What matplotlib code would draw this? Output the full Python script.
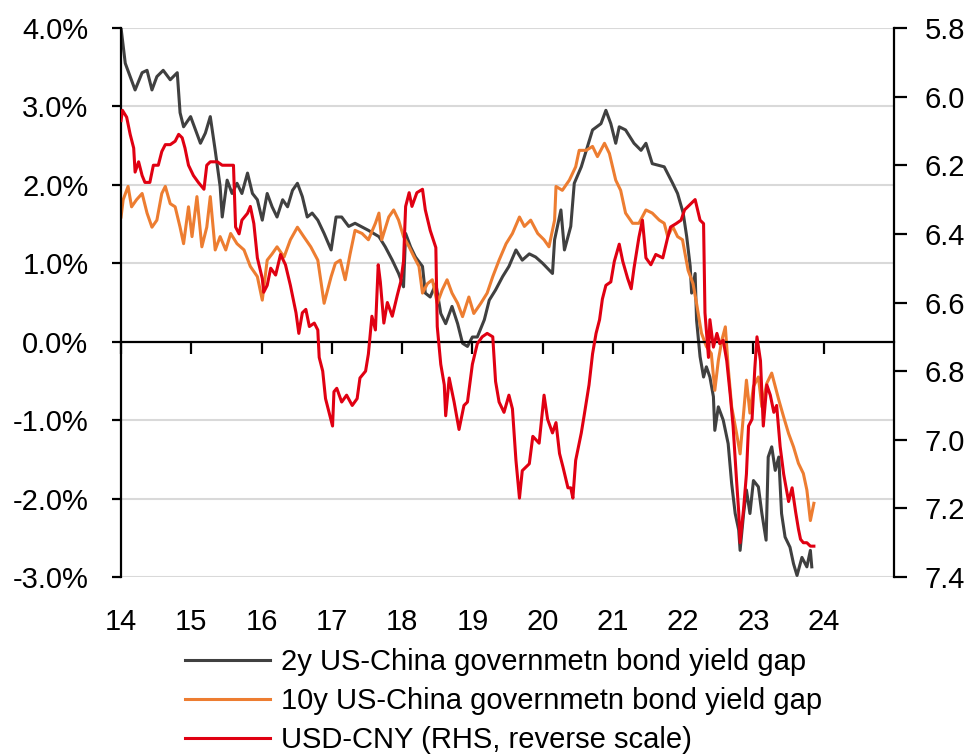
import matplotlib.pyplot as plt
from matplotlib.ticker import FuncFormatter

# 2y US-China government bond yield gap (%)
gap2y_years = [2014.00, 2014.06, 2014.13, 2014.20, 2014.30, 2014.37, 2014.44, 2014.51, 2014.60, 2014.70,
               2014.80, 2014.84, 2014.89, 2014.99, 2015.06, 2015.13, 2015.20, 2015.27, 2015.34, 2015.41,
               2015.44, 2015.51, 2015.58, 2015.65, 2015.72, 2015.80, 2015.87, 2015.94, 2016.01, 2016.08,
               2016.15, 2016.22, 2016.30, 2016.37, 2016.44, 2016.51, 2016.58, 2016.65, 2016.72, 2016.80,
               2016.89, 2016.99, 2017.06, 2017.14, 2017.24, 2017.33, 2017.52, 2017.67, 2017.76, 2017.86,
               2017.95, 2018.02, 2018.05, 2018.12, 2018.19, 2018.29, 2018.33, 2018.40, 2018.48, 2018.55,
               2018.62, 2018.71, 2018.79, 2018.86, 2018.93, 2019.00, 2019.07, 2019.17, 2019.24, 2019.33,
               2019.43, 2019.52, 2019.62, 2019.71, 2019.81, 2019.90, 2020.00, 2020.14, 2020.17, 2020.26,
               2020.31, 2020.40, 2020.45, 2020.55, 2020.71, 2020.83, 2020.90, 2020.97, 2021.04, 2021.09,
               2021.18, 2021.30, 2021.40, 2021.47, 2021.56, 2021.73, 2021.85, 2021.92, 2022.00, 2022.05,
               2022.10, 2022.12, 2022.17, 2022.19, 2022.24, 2022.29, 2022.33, 2022.38, 2022.43, 2022.45,
               2022.50, 2022.57, 2022.64, 2022.69, 2022.74, 2022.79, 2022.81, 2022.86, 2022.90, 2022.95,
               2023.00, 2023.07, 2023.12, 2023.18, 2023.21, 2023.26, 2023.31, 2023.36, 2023.40, 2023.45,
               2023.52, 2023.57, 2023.62, 2023.69, 2023.76, 2023.81, 2023.83]
gap2y_values = [4.00, 3.55, 3.38, 3.21, 3.43, 3.46, 3.21, 3.38, 3.46, 3.34,
                3.43, 2.92, 2.74, 2.87, 2.70, 2.53, 2.66, 2.87, 2.44, 1.98,
                1.59, 2.06, 1.89, 2.02, 1.89, 2.15, 1.89, 1.81, 1.55, 1.89,
                1.72, 1.59, 1.81, 1.72, 1.93, 2.02, 1.85, 1.59, 1.64, 1.55,
                1.38, 1.17, 1.59, 1.59, 1.47, 1.51, 1.42, 1.34, 1.21, 1.04,
                0.87, 0.70, 1.38, 1.21, 1.08, 0.96, 0.62, 0.57, 0.74, 0.36,
                0.23, 0.45, 0.23, -0.02, -0.06, 0.06, 0.06, 0.28, 0.53, 0.66,
                0.83, 0.96, 1.17, 1.04, 1.12, 1.08, 1.00, 0.87, 1.30, 1.68,
                1.17, 1.47, 2.02, 2.23, 2.70, 2.78, 2.95, 2.78, 2.53, 2.74,
                2.70, 2.53, 2.44, 2.53, 2.27, 2.23, 2.02, 1.89, 1.64, 1.34,
                0.96, 0.62, 0.87, 0.28, -0.19, -0.45, -0.32, -0.45, -0.70, -1.13,
                -0.83, -1.00, -1.30, -1.81, -2.19, -2.40, -2.66, -2.19, -1.89, -2.19,
                -1.77, -1.85, -2.19, -2.53, -1.47, -1.34, -1.64, -1.47, -2.19, -2.49,
                -2.62, -2.83, -2.98, -2.75, -2.87, -2.66, -2.87]

# 10y US-China government bond yield gap (%)
gap10y_years = [2014.00, 2014.03, 2014.10, 2014.15, 2014.22, 2014.30, 2014.37, 2014.44, 2014.51, 2014.58,
                2014.63, 2014.70, 2014.77, 2014.84, 2014.89, 2014.96, 2015.01, 2015.08, 2015.15, 2015.22,
                2015.27, 2015.34, 2015.41, 2015.49, 2015.56, 2015.65, 2015.75, 2015.84, 2015.94, 2016.01,
                2016.08, 2016.15, 2016.22, 2016.32, 2016.41, 2016.51, 2016.60, 2016.70, 2016.80, 2016.89,
                2016.99, 2017.05, 2017.12, 2017.19, 2017.26, 2017.33, 2017.43, 2017.52, 2017.62, 2017.67,
                2017.71, 2017.81, 2017.88, 2017.95, 2018.02, 2018.10, 2018.17, 2018.24, 2018.29, 2018.36,
                2018.43, 2018.50, 2018.57, 2018.64, 2018.71, 2018.79, 2018.86, 2018.95, 2019.02, 2019.12,
                2019.21, 2019.29, 2019.38, 2019.48, 2019.57, 2019.67, 2019.74, 2019.83, 2019.93, 2020.02,
                2020.09, 2020.17, 2020.19, 2020.28, 2020.38, 2020.47, 2020.52, 2020.62, 2020.71, 2020.78,
                2020.88, 2020.95, 2021.04, 2021.11, 2021.18, 2021.28, 2021.37, 2021.47, 2021.56, 2021.66,
                2021.73, 2021.78, 2021.85, 2021.92, 2021.99, 2022.07, 2022.14, 2022.19, 2022.26, 2022.33,
                2022.40, 2022.45, 2022.50, 2022.55, 2022.60, 2022.64, 2022.69, 2022.76, 2022.81, 2022.86,
                2022.90, 2022.95, 2023.00, 2023.07, 2023.12, 2023.19, 2023.26, 2023.31, 2023.36, 2023.43,
                2023.50, 2023.57, 2023.64, 2023.71, 2023.76, 2023.81, 2023.86]
gap10y_values = [1.59, 1.81, 1.98, 1.72, 1.81, 1.89, 1.64, 1.46, 1.55, 1.89,
                 1.98, 1.76, 1.72, 1.46, 1.25, 1.72, 1.34, 1.85, 1.21, 1.46,
                 1.85, 1.17, 1.34, 1.17, 1.38, 1.25, 1.17, 0.96, 0.83, 0.53,
                 1.04, 1.12, 1.21, 1.08, 1.30, 1.46, 1.34, 1.21, 1.04, 0.49,
                 0.83, 1.00, 1.04, 0.79, 1.12, 1.42, 1.38, 1.30, 1.51, 1.64,
                 1.30, 1.59, 1.68, 1.55, 1.34, 1.21, 1.08, 0.96, 0.62, 0.74,
                 0.79, 0.49, 0.66, 0.79, 0.62, 0.49, 0.32, 0.57, 0.36, 0.49,
                 0.62, 0.83, 1.04, 1.25, 1.38, 1.59, 1.47, 1.55, 1.38, 1.30,
                 1.21, 1.55, 1.98, 1.93, 2.06, 2.23, 2.44, 2.44, 2.49, 2.36,
                 2.53, 2.40, 2.06, 1.93, 1.64, 1.51, 1.51, 1.68, 1.64, 1.55,
                 1.51, 1.34, 1.47, 1.34, 1.30, 0.91, 0.74, 0.49, 0.11, -0.06,
                 -0.15, -0.62, -0.24, 0.02, 0.19, -0.32, -0.83, -1.17, -1.43, -0.91,
                 -0.49, -0.91, -0.57, -0.45, -0.83, -0.53, -0.40, -0.57, -0.74, -0.96,
                 -1.17, -1.34, -1.55, -1.68, -1.89, -2.28, -2.06]

# USD-CNY (right axis, reversed)
usdcny_years = [2014.00, 2014.02, 2014.08, 2014.13, 2014.18, 2014.20, 2014.25, 2014.30, 2014.34, 2014.41,
                2014.46, 2014.53, 2014.58, 2014.63, 2014.70, 2014.77, 2014.82, 2014.87, 2014.91, 2014.96,
                2015.03, 2015.10, 2015.18, 2015.22, 2015.27, 2015.37, 2015.44, 2015.51, 2015.60, 2015.63,
                2015.68, 2015.72, 2015.80, 2015.84, 2015.89, 2015.94, 2016.01, 2016.03, 2016.08, 2016.13,
                2016.20, 2016.27, 2016.34, 2016.41, 2016.49, 2016.53, 2016.58, 2016.63, 2016.68, 2016.75,
                2016.80, 2016.82, 2016.87, 2016.91, 2016.96, 2017.01, 2017.03, 2017.07, 2017.14, 2017.21,
                2017.29, 2017.36, 2017.40, 2017.48, 2017.52, 2017.57, 2017.62, 2017.66, 2017.69, 2017.74,
                2017.79, 2017.86, 2017.93, 2017.98, 2018.02, 2018.05, 2018.10, 2018.14, 2018.21, 2018.29,
                2018.33, 2018.40, 2018.48, 2018.50, 2018.55, 2018.60, 2018.62, 2018.67, 2018.74, 2018.81,
                2018.88, 2018.93, 2019.00, 2019.07, 2019.14, 2019.21, 2019.29, 2019.33, 2019.38, 2019.45,
                2019.52, 2019.57, 2019.62, 2019.67, 2019.71, 2019.81, 2019.86, 2019.95, 2020.02, 2020.07,
                2020.14, 2020.19, 2020.24, 2020.29, 2020.36, 2020.40, 2020.43, 2020.47, 2020.55, 2020.59,
                2020.66, 2020.71, 2020.76, 2020.81, 2020.85, 2020.90, 2020.97, 2021.02, 2021.09, 2021.14,
                2021.21, 2021.26, 2021.30, 2021.37, 2021.42, 2021.47, 2021.54, 2021.61, 2021.71, 2021.78,
                2021.82, 2021.90, 2021.97, 2022.02, 2022.12, 2022.17, 2022.24, 2022.29, 2022.31, 2022.36,
                2022.38, 2022.43, 2022.48, 2022.52, 2022.57, 2022.62, 2022.67, 2022.71, 2022.76, 2022.79,
                2022.81, 2022.86, 2022.90, 2022.93, 2022.98, 2023.02, 2023.05, 2023.10, 2023.14, 2023.19,
                2023.24, 2023.29, 2023.33, 2023.38, 2023.43, 2023.50, 2023.55, 2023.60, 2023.64, 2023.67,
                2023.71, 2023.76, 2023.81, 2023.86]
usdcny_values = [6.07, 6.04, 6.06, 6.11, 6.15, 6.22, 6.19, 6.23, 6.25, 6.25,
                 6.20, 6.20, 6.16, 6.14, 6.14, 6.13, 6.11, 6.12, 6.15, 6.20,
                 6.23, 6.25, 6.27, 6.20, 6.19, 6.19, 6.20, 6.20, 6.20, 6.38,
                 6.40, 6.36, 6.34, 6.32, 6.37, 6.47, 6.53, 6.57, 6.55, 6.50,
                 6.52, 6.46, 6.49, 6.55, 6.63, 6.69, 6.63, 6.62, 6.67, 6.66,
                 6.68, 6.76, 6.80, 6.88, 6.92, 6.96, 6.86, 6.85, 6.89, 6.87,
                 6.90, 6.88, 6.82, 6.80, 6.75, 6.64, 6.68, 6.49, 6.54, 6.66,
                 6.60, 6.64, 6.58, 6.54, 6.48, 6.32, 6.28, 6.32, 6.28, 6.27,
                 6.33, 6.39, 6.44, 6.67, 6.78, 6.84, 6.93, 6.82, 6.89, 6.97,
                 6.90, 6.89, 6.78, 6.72, 6.70, 6.69, 6.70, 6.83, 6.89, 6.92,
                 6.87, 6.91, 7.06, 7.17, 7.09, 7.07, 6.99, 7.01, 6.87, 6.94,
                 6.98, 6.95, 7.04, 7.08, 7.14, 7.14, 7.17, 7.06, 6.98, 6.93,
                 6.84, 6.75, 6.69, 6.65, 6.59, 6.55, 6.54, 6.48, 6.43, 6.48,
                 6.53, 6.56, 6.50, 6.41, 6.36, 6.47, 6.49, 6.46, 6.47, 6.41,
                 6.38, 6.37, 6.36, 6.33, 6.31, 6.30, 6.36, 6.37, 6.63, 6.76,
                 6.65, 6.73, 6.69, 6.72, 6.71, 6.77, 6.87, 6.96, 7.12, 7.21,
                 7.30, 7.20, 7.10, 6.96, 6.94, 6.79, 6.70, 6.77, 6.96, 6.84,
                 6.87, 6.92, 6.90, 7.02, 7.10, 7.18, 7.14, 7.21, 7.26, 7.29,
                 7.30, 7.30, 7.31, 7.31]

year_ticks = list(range(2014, 2025))
year_labels = [str(y - 2000) for y in year_ticks]
left_ticks = [-3, -2, -1, 0, 1, 2, 3, 4]
right_ticks = [5.8, 6.0, 6.2, 6.4, 6.6, 6.8, 7.0, 7.2, 7.4]

plt.rcParams['font.family'] = ['Liberation Sans', 'DejaVu Sans']
FS = 21

fig = plt.figure(figsize=(9.73, 7.54), dpi=100)
ax = fig.add_axes([0.1244, 0.2347, 0.7944, 0.7282])

l1, = ax.plot(gap2y_years, gap2y_values, color='#404040', lw=2.2,
              label='2y US-China governmetn bond yield gap')
l2, = ax.plot(gap10y_years, gap10y_values, color='#ED7D31', lw=2.2,
              label='10y US-China governmetn bond yield gap')

ax.set_xlim(2014, 2025)
ax.set_ylim(-3, 4)
ax.set_yticks(left_ticks)
ax.yaxis.set_major_formatter(FuncFormatter(lambda v, p: f'{v:.1f}%'))
ax.grid(axis='y', color='#D9D9D9', lw=1.5)
ax.set_axisbelow(True)

ax.spines['top'].set_visible(False)
ax.spines['right'].set_visible(False)
ax.spines['bottom'].set_position(('data', 0))
ax.spines['bottom'].set_linewidth(1.6)
ax.spines['left'].set_linewidth(1.6)
ax.set_xticks(year_ticks)
ax.tick_params(axis='x', labelbottom=False, direction='out', length=8.5, width=1.6)
ax.tick_params(axis='y', direction='out', length=6.5, width=1.6, pad=17, labelsize=FS)

# year labels sit below the plot, not at the zero line
sec = ax.secondary_xaxis('bottom')
sec.set_xticks(year_ticks, labels=year_labels)
sec.spines['bottom'].set_visible(False)
sec.tick_params(length=0, pad=22, labelsize=FS)

ax2 = ax.twinx()
l3, = ax2.plot(usdcny_years, usdcny_values, color='#E00012', lw=2.2,
               label='USD-CNY (RHS, reverse scale)')
ax2.set_ylim(7.4, 5.8)
ax2.set_yticks(right_ticks)
ax2.yaxis.set_major_formatter(FuncFormatter(lambda v, p: f'{v:.1f}'))
for side in ['top', 'left', 'bottom']:
    ax2.spines[side].set_visible(False)
ax2.spines['right'].set_linewidth(1.6)
ax2.tick_params(axis='y', direction='out', length=9, width=1.6, pad=13, labelsize=FS)

fig.legend(handles=[l1, l2, l3], loc='upper left', bbox_to_anchor=(185 / 973, 1 - 648 / 754),
           frameon=False, fontsize=FS, handlelength=2.9, handletextpad=0.4,
           labelspacing=0.38, borderpad=0, borderaxespad=0)

fig.savefig('out.png', dpi=100)
